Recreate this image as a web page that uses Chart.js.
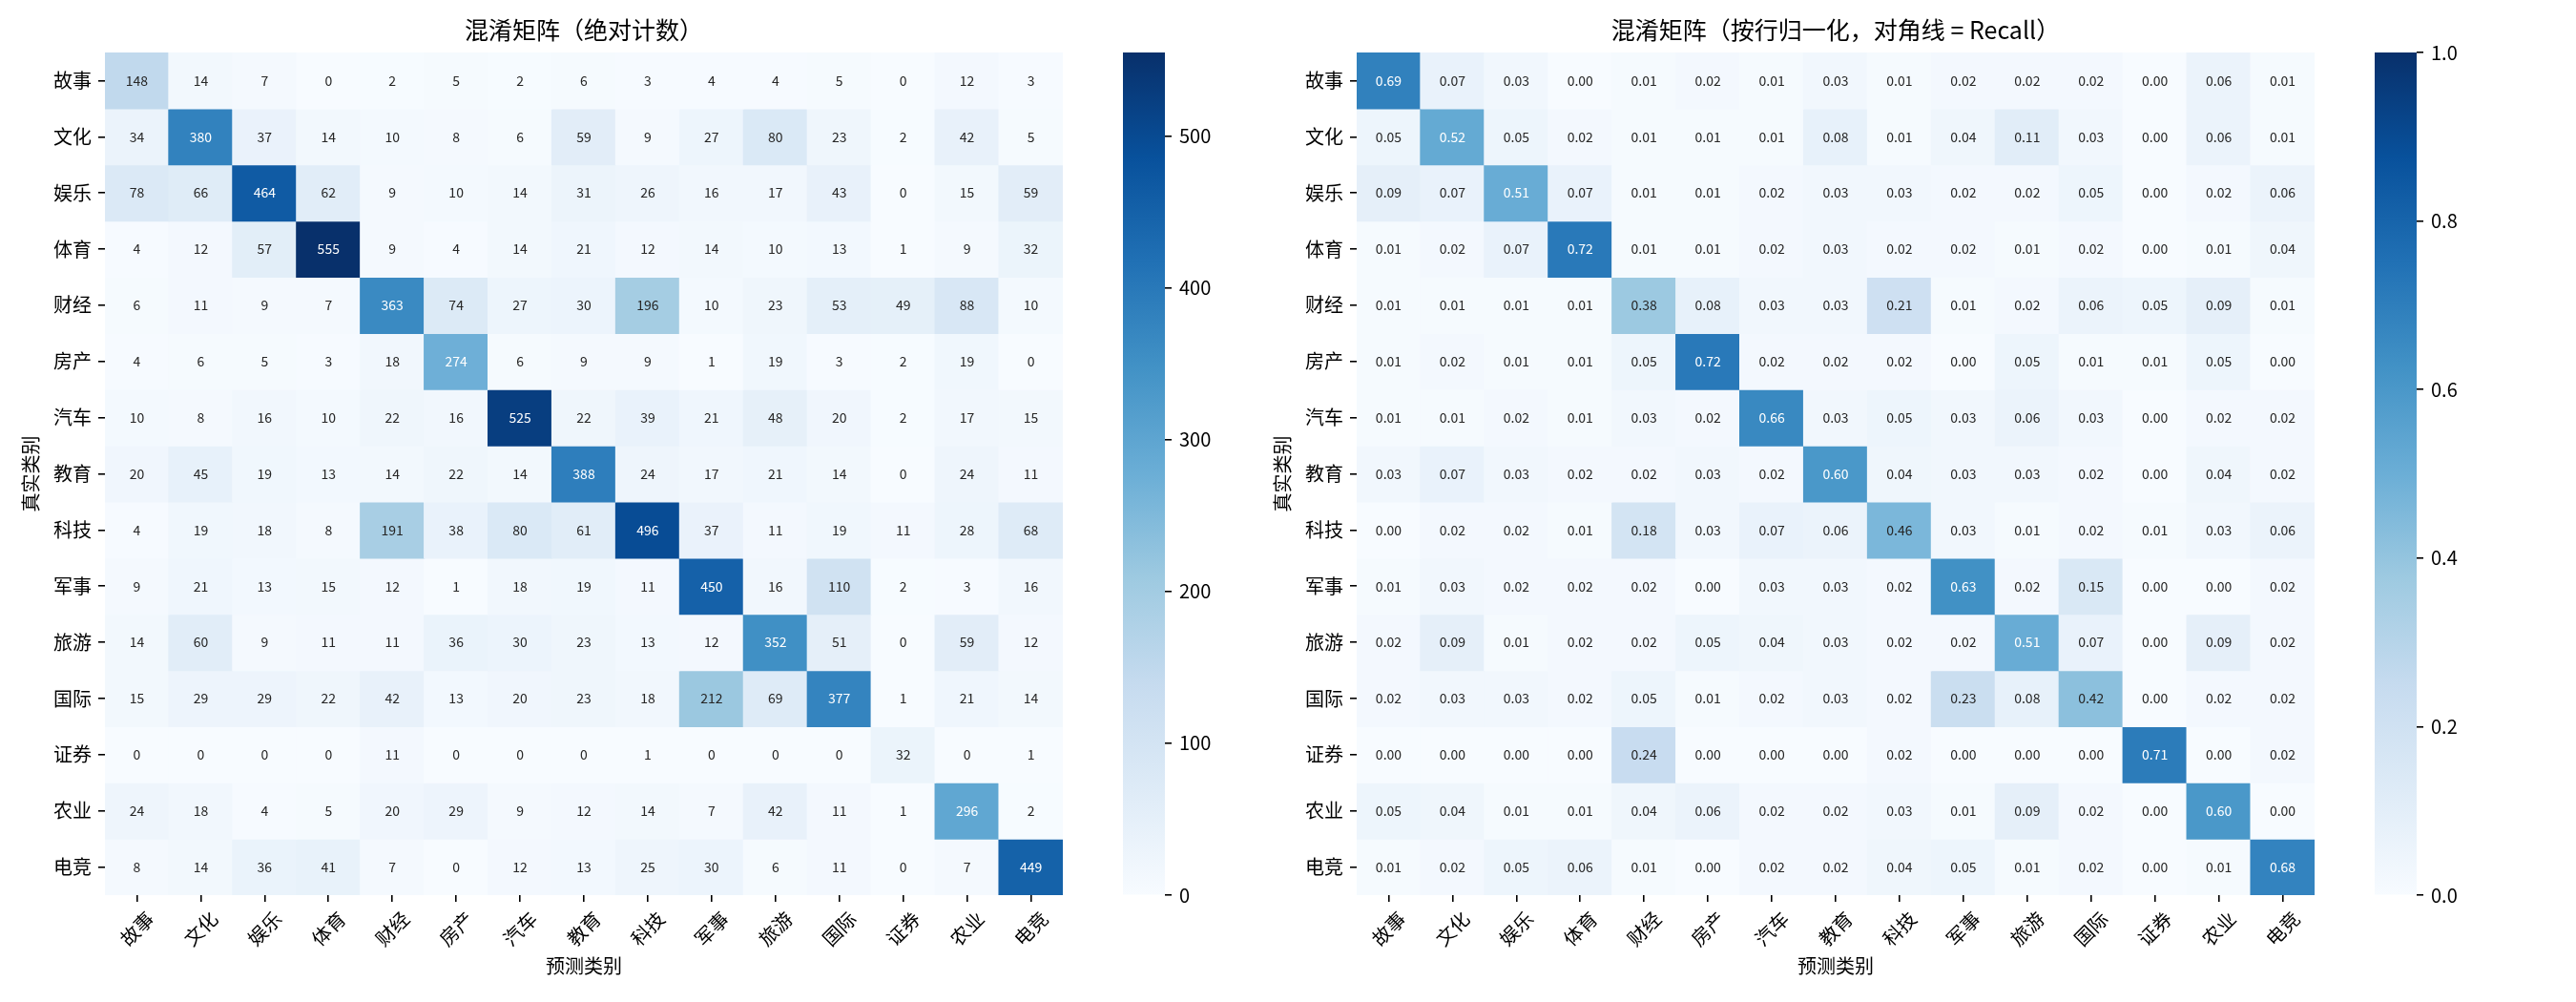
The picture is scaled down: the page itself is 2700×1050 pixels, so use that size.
<!DOCTYPE html>
<html>
<head>
<meta charset="utf-8">
<script src="https://cdn.jsdelivr.net/npm/chart.js@4.4.1/dist/chart.umd.min.js"></script>
<style>
  html, body { margin: 0; padding: 0; background: #fff; }
  #wrap { position: relative; width: 2700px; height: 1050px; overflow: hidden; }
  canvas { position: absolute; top: 0; }
</style>
</head>
<body>
<div id="wrap">
  <canvas id="cmCount" width="1150" height="1050" style="left:0px"></canvas>
  <canvas id="cbCount" width="114" height="1050" style="left:1177px"></canvas>
  <canvas id="cmNorm" width="1150" height="1050" style="left:1312px"></canvas>
  <canvas id="cbNorm" width="114" height="1050" style="left:2489px"></canvas>
</div>
<script>
const FONT = '"Noto Sans CJK SC", "Noto Sans", sans-serif';
Chart.defaults.font.family = FONT;

const categories = ['故事', '文化', '娱乐', '体育', '财经', '房产', '汽车', '教育', '科技', '军事', '旅游', '国际', '证券', '农业', '电竞'];

// rows = true class, cols = predicted class
const countRows = [
  [148, 14, 7, 0, 2, 5, 2, 6, 3, 4, 4, 5, 0, 12, 3],
  [34, 380, 37, 14, 10, 8, 6, 59, 9, 27, 80, 23, 2, 42, 5],
  [78, 66, 464, 62, 9, 10, 14, 31, 26, 16, 17, 43, 0, 15, 59],
  [4, 12, 57, 555, 9, 4, 14, 21, 12, 14, 10, 13, 1, 9, 32],
  [6, 11, 9, 7, 363, 74, 27, 30, 196, 10, 23, 53, 49, 88, 10],
  [4, 6, 5, 3, 18, 274, 6, 9, 9, 1, 19, 3, 2, 19, 0],
  [10, 8, 16, 10, 22, 16, 525, 22, 39, 21, 48, 20, 2, 17, 15],
  [20, 45, 19, 13, 14, 22, 14, 388, 24, 17, 21, 14, 0, 24, 11],
  [4, 19, 18, 8, 191, 38, 80, 61, 496, 37, 11, 19, 11, 28, 68],
  [9, 21, 13, 15, 12, 1, 18, 19, 11, 450, 16, 110, 2, 3, 16],
  [14, 60, 9, 11, 11, 36, 30, 23, 13, 12, 352, 51, 0, 59, 12],
  [15, 29, 29, 22, 42, 13, 20, 23, 18, 212, 69, 377, 1, 21, 14],
  [0, 0, 0, 0, 11, 0, 0, 0, 1, 0, 0, 0, 32, 0, 1],
  [24, 18, 4, 5, 20, 29, 9, 12, 14, 7, 42, 11, 1, 296, 2],
  [8, 14, 36, 41, 7, 0, 12, 13, 25, 30, 6, 11, 0, 7, 449]
];

const recallRows = [
  [0.69, 0.07, 0.03, 0.00, 0.01, 0.02, 0.01, 0.03, 0.01, 0.02, 0.02, 0.02, 0.00, 0.06, 0.01],
  [0.05, 0.52, 0.05, 0.02, 0.01, 0.01, 0.01, 0.08, 0.01, 0.04, 0.11, 0.03, 0.00, 0.06, 0.01],
  [0.09, 0.07, 0.51, 0.07, 0.01, 0.01, 0.02, 0.03, 0.03, 0.02, 0.02, 0.05, 0.00, 0.02, 0.06],
  [0.01, 0.02, 0.07, 0.72, 0.01, 0.01, 0.02, 0.03, 0.02, 0.02, 0.01, 0.02, 0.00, 0.01, 0.04],
  [0.01, 0.01, 0.01, 0.01, 0.38, 0.08, 0.03, 0.03, 0.21, 0.01, 0.02, 0.06, 0.05, 0.09, 0.01],
  [0.01, 0.02, 0.01, 0.01, 0.05, 0.72, 0.02, 0.02, 0.02, 0.00, 0.05, 0.01, 0.01, 0.05, 0.00],
  [0.01, 0.01, 0.02, 0.01, 0.03, 0.02, 0.66, 0.03, 0.05, 0.03, 0.06, 0.03, 0.00, 0.02, 0.02],
  [0.03, 0.07, 0.03, 0.02, 0.02, 0.03, 0.02, 0.60, 0.04, 0.03, 0.03, 0.02, 0.00, 0.04, 0.02],
  [0.00, 0.02, 0.02, 0.01, 0.18, 0.03, 0.07, 0.06, 0.46, 0.03, 0.01, 0.02, 0.01, 0.03, 0.06],
  [0.01, 0.03, 0.02, 0.02, 0.02, 0.00, 0.03, 0.03, 0.02, 0.63, 0.02, 0.15, 0.00, 0.00, 0.02],
  [0.02, 0.09, 0.01, 0.02, 0.02, 0.05, 0.04, 0.03, 0.02, 0.02, 0.51, 0.07, 0.00, 0.09, 0.02],
  [0.02, 0.03, 0.03, 0.02, 0.05, 0.01, 0.02, 0.03, 0.02, 0.23, 0.08, 0.42, 0.00, 0.02, 0.02],
  [0.00, 0.00, 0.00, 0.00, 0.24, 0.00, 0.00, 0.00, 0.02, 0.00, 0.00, 0.00, 0.71, 0.00, 0.02],
  [0.05, 0.04, 0.01, 0.01, 0.04, 0.06, 0.02, 0.02, 0.03, 0.01, 0.09, 0.02, 0.00, 0.60, 0.00],
  [0.01, 0.02, 0.05, 0.06, 0.01, 0.00, 0.02, 0.02, 0.04, 0.05, 0.01, 0.02, 0.00, 0.01, 0.68]
];

// matplotlib "Blues"
const BLUES = [[247,251,255],[222,235,247],[198,219,239],[158,202,225],[107,174,214],[66,146,198],[33,113,181],[8,81,156],[8,48,107]];

function blues(t) {
  t = Math.min(1, Math.max(0, t));
  const p = t * 8;
  const i = Math.min(7, Math.floor(p));
  const f = p - i;
  const a = BLUES[i], b = BLUES[i + 1];
  return a.map((v, k) => Math.round(v + (b[k] - v) * f));
}
const rgb = c => `rgb(${c[0]},${c[1]},${c[2]})`;

function luminance(c) {
  const l = c.map(v => {
    v /= 255;
    return v <= 0.03928 ? v / 12.92 : Math.pow((v + 0.055) / 1.055, 2.4);
  });
  return 0.2126 * l[0] + 0.7152 * l[1] + 0.0722 * l[2];
}

// numbers inside the cells
const cellLabels = {
  id: 'cellLabels',
  afterDatasetsDraw(chart, args, opts) {
    const { ctx, scales: { x, y } } = chart;
    ctx.save();
    ctx.font = '14px ' + FONT;
    ctx.textAlign = 'center';
    ctx.textBaseline = 'middle';
    opts.rows.forEach((row, r) => {
      row.forEach((v, c) => {
        ctx.fillStyle = luminance(blues(v / opts.vmax)) > 0.408 ? '#262626' : '#ffffff';
        ctx.fillText(opts.fmt(v), x.getPixelForTick(c), y.getPixelForValue(r + 0.5));
      });
    });
    ctx.restore();
  }
};

// rotated x labels, centred under each tick like matplotlib
const xLabels = {
  id: 'xLabels',
  afterDraw(chart) {
    const { ctx, chartArea, scales: { x } } = chart;
    ctx.save();
    ctx.font = '20px ' + FONT;
    ctx.fillStyle = '#000';
    ctx.textAlign = 'center';
    ctx.textBaseline = 'middle';
    categories.forEach((name, i) => {
      const w = ctx.measureText(name).width;
      const cy = chartArea.bottom + 14 + (w + 20) * Math.SQRT1_2 / 2;
      ctx.save();
      ctx.translate(x.getPixelForTick(i), cy);
      ctx.rotate(-Math.PI / 4);
      ctx.fillText(name, 0, 0);
      ctx.restore();
    });
    ctx.restore();
  }
};

const tickGrid = {
  drawOnChartArea: false, drawTicks: true, tickLength: 7,
  tickWidth: 1.6, lineWidth: 1.6, tickColor: '#000', color: '#000'
};

function heatmap(id, title, rows, vmax, fmt) {
  const datasets = rows.map((row, r) => ({
    data: row.map(() => [r, r + 1]),
    backgroundColor: row.map(v => rgb(blues(v / vmax))),
    grouped: false,
    barPercentage: 1,
    categoryPercentage: 1,
    borderWidth: 0,
    inflateAmount: 0.6
  }));

  return new Chart(document.getElementById(id), {
    type: 'bar',
    data: { labels: categories, datasets },
    plugins: [cellLabels, xLabels],
    options: {
      responsive: false,
      animation: false,
      events: [],
      layout: { padding: { left: 0, right: 36, top: 0, bottom: 0 } },
      plugins: {
        legend: { display: false },
        tooltip: { enabled: false },
        title: {
          display: true, text: title, fullSize: false, color: '#000',
          font: { size: 25, weight: 'normal', family: FONT, lineHeight: 1.2 },
          padding: { top: 16, bottom: 9 }
        },
        cellLabels: { rows, vmax, fmt }
      },
      scales: {
        x: {
          type: 'category', offset: true,
          grid: Object.assign({ offset: false }, tickGrid),
          border: { display: false },
          ticks: { display: false },
          title: {
            display: true, text: '预测类别', color: '#000',
            font: { size: 20, family: FONT }, padding: { top: 0, bottom: 26 }
          },
          afterFit: a => { a.height = 112; }
        },
        y: {
          type: 'linear', min: 0, max: categories.length, reverse: true,
          afterBuildTicks: a => { a.ticks = categories.map((_, i) => ({ value: i + 0.5 })); },
          ticks: {
            autoSkip: false, color: '#000', padding: 7,
            font: { size: 20, family: FONT },
            callback: v => categories[Math.floor(v)]
          },
          grid: tickGrid,
          border: { display: false },
          title: {
            display: true, text: '真实类别', color: '#000',
            font: { size: 20, family: FONT }, padding: { top: 20, bottom: 0 }
          },
          afterFit: a => { a.width = 110; }
        }
      }
    }
  });
}

function colorbar(id, vmax, step, fmt) {
  const gradient = chart => {
    const area = chart.chartArea;
    if (!area) return rgb(BLUES[4]);
    const g = chart.ctx.createLinearGradient(0, area.bottom, 0, area.top);
    BLUES.forEach((c, i) => g.addColorStop(i / (BLUES.length - 1), rgb(c)));
    return g;
  };
  return new Chart(document.getElementById(id), {
    type: 'bar',
    data: {
      labels: [''],
      datasets: [{
        data: [[0, vmax]],
        backgroundColor: ctx => gradient(ctx.chart),
        barPercentage: 1, categoryPercentage: 1, borderWidth: 0
      }]
    },
    options: {
      responsive: false,
      animation: false,
      events: [],
      layout: { padding: { left: 0, right: 0, top: 55, bottom: 112 } },
      plugins: { legend: { display: false }, tooltip: { enabled: false } },
      scales: {
        x: { display: false },
        y: {
          position: 'right', min: 0, max: vmax,
          ticks: {
            stepSize: step, includeBounds: false, color: '#000', padding: 8,
            font: { size: 20, family: FONT },
            callback: v => fmt(v)
          },
          grid: tickGrid,
          border: { display: false },
          afterFit: a => { a.width = 70; }
        }
      }
    }
  });
}

const countMax = Math.max(...countRows.flat());

heatmap('cmCount', '混淆矩阵（绝对计数）', countRows, countMax, v => String(v));
colorbar('cbCount', countMax, 100, v => String(Math.round(v)));
heatmap('cmNorm', '混淆矩阵（按行归一化，对角线 = Recall）', recallRows, 1, v => v.toFixed(2));
colorbar('cbNorm', 1, 0.2, v => v.toFixed(1));
</script>
</body>
</html>
